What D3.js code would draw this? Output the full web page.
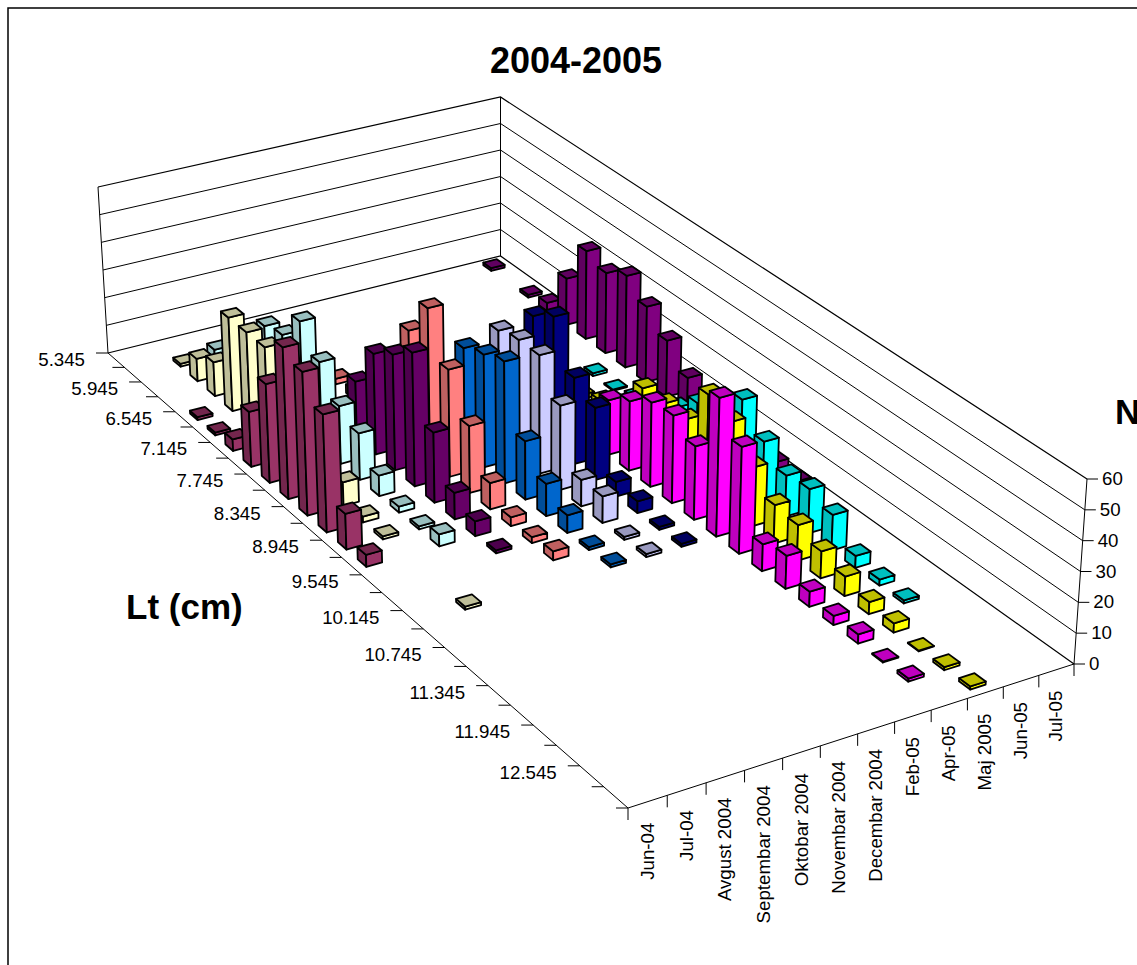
<!DOCTYPE html>
<html><head><meta charset="utf-8">
<style>html,body{margin:0;padding:0;background:#fff}svg{display:block}text{font-family:"Liberation Sans",Arial,sans-serif;fill:#000}</style>
<script src="https://cdn.jsdelivr.net/npm/d3@7/dist/d3.min.js"></script>
</head><body><svg id="c" width="1137" height="965"></svg>
<script>
const months=["Jun-04","Jul-04","Avgust 2004","Septembar 2004","Oktobar 2004","Novembar 2004","Decembar 2004","Feb-05","Apr-05","Maj 2005","Jun-05","Jul-05"];
const ltLabels=["5.345","5.945","6.545","7.145","7.745","8.345","8.945","9.545","10.145","10.745","11.345","11.945","12.545"];
const zTicks=[0,10,20,30,40,50,60];
const colors=["#993366","#FFFFCC","#CCFFFF","#660066","#FF8080","#0066CC","#CCCCFF","#000080","#FF00FF","#FFFF00","#00FFFF","#800080"];
// values by Lt class index (0 = 5.345, 0.3 cm step); 0 = no bar
const jun04=[0,0,0,0,1,1,4,19,34,52,49,40,12,4,0,0,0,0,0,0,0,0,0,0,0,0];
const jul04=[0,1,8,12,33,33,33,20,14,10,8,2,1,0,0,0,1,0,0,0,0,0,0,0,0,0];
const avg04=[0,3,5,10,27,29,39,30,20,16,7,2,1,4,0,0,0,0,0,0,0,0,0,0,0,0];
const sep04=[0,0,0,0,0,0,0,20,35,40,46,24,9,5,1,0,0,0,0,0,0,0,0,0,0,0];
const okt04=[0,0,0,0,2,3,4,8,40,53,37,23,9,3,2,3,0,0,0,0,0,0,0,0,0,0];
const nov04=[0,0,0,0,0,0,0,0,0,36,39,42,20,11,6,1,1,0,0,0,0,0,0,0,0,0];
const dec04=[0,0,0,0,0,0,0,0,0,39,41,41,29,9,9,1,1,0,0,0,0,0,0,0,0,0];
const feb05=[0,0,0,0,0,0,0,0,0,41,46,30,25,5,4,1,1,0,0,0,0,0,0,0,0,0];
const apr05=[0,0,0,0,0,0,0,0,0,0,0,19,24,29,30,25,47,36,9,11,5,3,3,0.3,1,0];
const maj05=[0,0,0,0,0,0,0,0,1.5,5,8,20,20,20,34,30,20,13,12,9,6.5,4,3,0.2,1,1];
const jun05=[0,0,0,0,0,0,0,1,0.4,3,3,10,17,22,29,20,14,15,12,4,2,1,0,0,0,0];
const jul05=[1,0,1,3,17,32,29,33,27,20,12,6,5,4,4,3,0,0,0,0,0,0,0,0,0,0];
const seriesValues=[jun04,jul04,avg04,sep04,okt04,nov04,dec04,feb05,apr05,maj05,jun05,jul05];

const nLt=26,nS=months.length;
const ltS=d3.scaleLinear().domain([0,nLt]).range([0,1]);
const sS=d3.scaleLinear().domain([0,nS]).range([0,1]);
const zS=d3.scaleLinear().domain([0,60]).range([0,1]);
function homography(q){
  const [p0,p1,p2,p3]=q;
  const dx1=p1[0]-p2[0],dx2=p3[0]-p2[0],sx=p0[0]-p1[0]+p2[0]-p3[0];
  const dy1=p1[1]-p2[1],dy2=p3[1]-p2[1],sy=p0[1]-p1[1]+p2[1]-p3[1];
  const den=dx1*dy2-dx2*dy1,g=(sx*dy2-dx2*sy)/den,h=(dx1*sy-sx*dy1)/den;
  const a=p1[0]-p0[0]+g*p1[0],b=p3[0]-p0[0]+h*p3[0],d=p1[1]-p0[1]+g*p1[1],e=p3[1]-p0[1]+h*p3[1];
  return (u,v)=>{const w=g*u+h*v+1;return [(a*u+b*v+p0[0])/w,(d*u+e*v+p0[1])/w];};
}
const floorH=homography([[108,353],[628,808],[1074,664],[500.5,256]]);
const topH=homography([[98,187],[629.4,615.3],[1087,479],[500.5,97]]);
function P(lt,s,z){
  const u=ltS(lt),v=sS(s),t=zS(z),a=floorH(u,v),b=topH(u,v);
  return [a[0]+(b[0]-a[0])*t,a[1]+(b[1]-a[1])*t];
}
const svg=d3.select("#c");
const line=d3.line();
// chart area border
svg.append("path").attr("d","M8,965V8H1137").attr("fill","none").attr("stroke","#000").attr("stroke-width",1.5);
// walls
const wall=svg.append("g").attr("fill","none").attr("stroke","#000");
zTicks.forEach(z=>{
  wall.append("path").attr("d",line([P(0,0,z),P(0,nS,z),P(nLt,nS,z)])).attr("stroke-width",z===0||z===60?1.2:1);
});
[[0,0],[0,nS],[nLt,nS]].forEach(c=>wall.append("path").attr("d",line([P(c[0],c[1],0),P(c[0],c[1],60)])));
// axes
const axes=svg.append("g").attr("stroke","#000").attr("fill","none");
axes.append("path").attr("d",line([P(0,0,0),P(nLt,0,0),P(nLt,nS,0)]));
d3.range(nLt+1).forEach(i=>{
  const p=P(i,0,0);
  axes.append("path").attr("d",line([[p[0]-12,p[1]],p]));
});
d3.range(nS+1).forEach(i=>{
  const p=P(nLt,i,0);
  axes.append("path").attr("d",line([p,[p[0],p[1]+12]]));
});
zTicks.forEach(z=>{
  const p=P(nLt,nS,z);
  axes.append("path").attr("d",line([p,[p[0]+11,p[1]]]));
});
svg.append("g").selectAll("text").data(zTicks).join("text")
  .attr("x",z=>P(nLt,nS,z)[0]+15).attr("y",z=>P(nLt,nS,z)[1]+6).attr("font-size",18.7).text(z=>z);
svg.append("g").selectAll("text").data(ltLabels).join("text")
  .attr("text-anchor","end").attr("font-size",18.7)
  .attr("x",(d,i)=>P(i*2,0,0)[0]-23).attr("y",(d,i)=>P(i*2,0,0)[1]+13).text(d=>d);
svg.append("g").selectAll("text").data(months).join("text")
  .attr("text-anchor","end").attr("font-size",18.7)
  .attr("transform",(d,i)=>{const p=P(nLt,i+.5,0);return `translate(${p[0]+6},${p[1]+21}) rotate(-90)`;}).text(d=>d);
// bars
const wB=0.43;
const bars=[];
d3.range(nS-1,-1,-1).forEach(s=>{
  seriesValues[s].forEach((v,i)=>{ if(v>0) bars.push({s,i,v,color:colors[s]}); });
});
const shade=(c,k)=>{const r=d3.rgb(c);return d3.rgb(r.r*k,r.g*k,r.b*k).formatHex();};
const g=svg.append("g").attr("stroke","#000").attr("stroke-width",1.8).attr("stroke-linejoin","round");
const bar=g.selectAll("g").data(bars).join("g");
const corners=d=>{
  const l0=d.i+.5-wB/2,l1=d.i+.5+wB/2,s0=d.s+.5-wB/2,s1=d.s+.5+wB/2;
  return {l0,l1,s0,s1};
};
bar.append("polygon").attr("fill",d=>shade(d.color,.75)).attr("points",d=>{const c=corners(d);
  return [P(c.l0,c.s0,0),P(c.l1,c.s0,0),P(c.l1,c.s0,d.v),P(c.l0,c.s0,d.v)].join(" ");});
bar.append("polygon").attr("fill",d=>d.color).attr("points",d=>{const c=corners(d);
  return [P(c.l1,c.s0,0),P(c.l1,c.s1,0),P(c.l1,c.s1,d.v),P(c.l1,c.s0,d.v)].join(" ");});
bar.append("polygon").attr("fill",d=>shade(d.color,.75)).attr("points",d=>{const c=corners(d);
  return [P(c.l0,c.s0,d.v),P(c.l1,c.s0,d.v),P(c.l1,c.s1,d.v),P(c.l0,c.s1,d.v)].join(" ");});
// titles
svg.append("text").attr("x",576).attr("y",73).attr("text-anchor","middle").attr("font-size",36).attr("font-weight","bold").text("2004-2005");
svg.append("text").attr("x",126).attr("y",619).attr("font-size",35).attr("font-weight","bold").text("Lt (cm)");
svg.append("text").attr("x",1115).attr("y",424).attr("font-size",35).attr("font-weight","bold").text("N");
</script></body></html>
